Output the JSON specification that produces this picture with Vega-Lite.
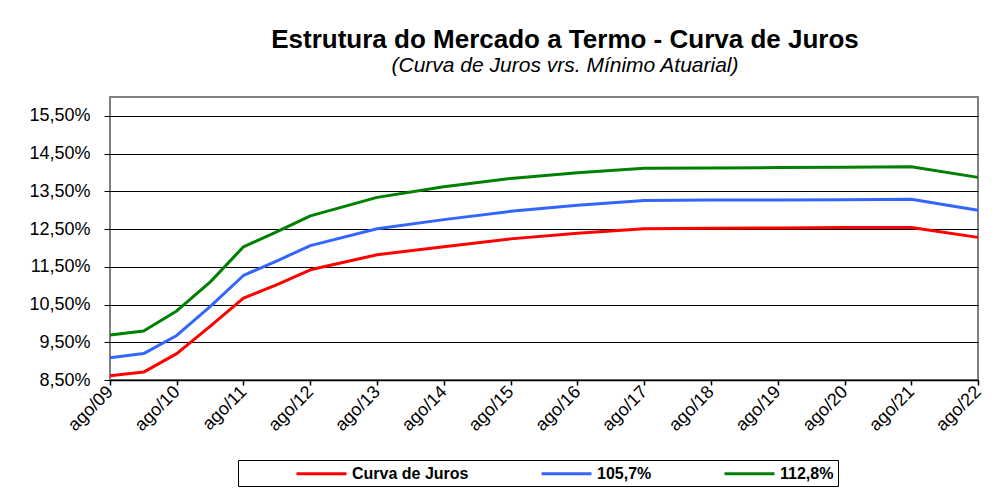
{
  "$schema": "https://vega.github.io/schema/vega-lite/v6.json",
  "width": 868,
  "height": 283,
  "autosize": {"type": "none"},
  "padding": {"left": 110, "top": 97, "right": 21, "bottom": 120},
  "background": "white",
  "title": {
    "text": "Estrutura do Mercado a Termo - Curva de Juros",
    "subtitle": "(Curva de Juros vrs. Mínimo Atuarial)",
    "anchor": "middle",
    "dx": 21,
    "offset": 21,
    "font": "Liberation Sans",
    "fontSize": 26,
    "fontWeight": "bold",
    "color": "black",
    "subtitleFont": "Liberation Sans",
    "subtitleFontSize": 21,
    "subtitleFontStyle": "italic",
    "subtitleColor": "black",
    "subtitlePadding": 2
  },
  "data": {
    "values": [
      {"data": "2009-08-01", "serie": "Curva de Juros", "taxa": 8.61},
      {"data": "2010-02-01", "serie": "Curva de Juros", "taxa": 8.71},
      {"data": "2010-08-01", "serie": "Curva de Juros", "taxa": 9.20},
      {"data": "2011-02-01", "serie": "Curva de Juros", "taxa": 9.93},
      {"data": "2011-08-01", "serie": "Curva de Juros", "taxa": 10.67},
      {"data": "2012-02-01", "serie": "Curva de Juros", "taxa": 11.03},
      {"data": "2012-08-01", "serie": "Curva de Juros", "taxa": 11.42},
      {"data": "2013-08-01", "serie": "Curva de Juros", "taxa": 11.82},
      {"data": "2014-08-01", "serie": "Curva de Juros", "taxa": 12.03},
      {"data": "2015-08-01", "serie": "Curva de Juros", "taxa": 12.24},
      {"data": "2016-08-01", "serie": "Curva de Juros", "taxa": 12.39},
      {"data": "2017-08-01", "serie": "Curva de Juros", "taxa": 12.51},
      {"data": "2018-08-01", "serie": "Curva de Juros", "taxa": 12.52},
      {"data": "2019-08-01", "serie": "Curva de Juros", "taxa": 12.53},
      {"data": "2020-08-01", "serie": "Curva de Juros", "taxa": 12.54},
      {"data": "2021-08-01", "serie": "Curva de Juros", "taxa": 12.54},
      {"data": "2022-08-01", "serie": "Curva de Juros", "taxa": 12.28},
      {"data": "2009-08-01", "serie": "105,7%", "taxa": 9.09},
      {"data": "2010-02-01", "serie": "105,7%", "taxa": 9.20},
      {"data": "2010-08-01", "serie": "105,7%", "taxa": 9.68},
      {"data": "2011-02-01", "serie": "105,7%", "taxa": 10.45},
      {"data": "2011-08-01", "serie": "105,7%", "taxa": 11.27},
      {"data": "2012-02-01", "serie": "105,7%", "taxa": 11.66},
      {"data": "2012-08-01", "serie": "105,7%", "taxa": 12.06},
      {"data": "2013-08-01", "serie": "105,7%", "taxa": 12.51},
      {"data": "2014-08-01", "serie": "105,7%", "taxa": 12.75},
      {"data": "2015-08-01", "serie": "105,7%", "taxa": 12.97},
      {"data": "2016-08-01", "serie": "105,7%", "taxa": 13.13},
      {"data": "2017-08-01", "serie": "105,7%", "taxa": 13.26},
      {"data": "2018-08-01", "serie": "105,7%", "taxa": 13.27},
      {"data": "2019-08-01", "serie": "105,7%", "taxa": 13.27},
      {"data": "2020-08-01", "serie": "105,7%", "taxa": 13.28},
      {"data": "2021-08-01", "serie": "105,7%", "taxa": 13.29},
      {"data": "2022-08-01", "serie": "105,7%", "taxa": 13.00},
      {"data": "2009-08-01", "serie": "112,8%", "taxa": 9.69},
      {"data": "2010-02-01", "serie": "112,8%", "taxa": 9.80},
      {"data": "2010-08-01", "serie": "112,8%", "taxa": 10.33},
      {"data": "2011-02-01", "serie": "112,8%", "taxa": 11.10},
      {"data": "2011-08-01", "serie": "112,8%", "taxa": 12.03},
      {"data": "2012-02-01", "serie": "112,8%", "taxa": 12.43},
      {"data": "2012-08-01", "serie": "112,8%", "taxa": 12.85},
      {"data": "2013-08-01", "serie": "112,8%", "taxa": 13.34},
      {"data": "2014-08-01", "serie": "112,8%", "taxa": 13.62},
      {"data": "2015-08-01", "serie": "112,8%", "taxa": 13.84},
      {"data": "2016-08-01", "serie": "112,8%", "taxa": 13.99},
      {"data": "2017-08-01", "serie": "112,8%", "taxa": 14.11},
      {"data": "2018-08-01", "serie": "112,8%", "taxa": 14.12},
      {"data": "2019-08-01", "serie": "112,8%", "taxa": 14.13},
      {"data": "2020-08-01", "serie": "112,8%", "taxa": 14.14},
      {"data": "2021-08-01", "serie": "112,8%", "taxa": 14.15},
      {"data": "2022-08-01", "serie": "112,8%", "taxa": 13.87}
    ]
  },
  "mark": {"type": "line", "strokeWidth": 3, "strokeJoin": "round"},
  "encoding": {
    "x": {
      "field": "data",
      "type": "temporal",
      "scale": {"type": "utc", "domain": [{"year": 2009, "month": 8, "date": 1, "utc": true}, {"year": 2022, "month": 8, "date": 1, "utc": true}]},
      "axis": {
        "title": null,
        "grid": false,
        "values": [
          {"year": 2009, "month": 8, "date": 1, "utc": true},
          {"year": 2010, "month": 8, "date": 1, "utc": true},
          {"year": 2011, "month": 8, "date": 1, "utc": true},
          {"year": 2012, "month": 8, "date": 1, "utc": true},
          {"year": 2013, "month": 8, "date": 1, "utc": true},
          {"year": 2014, "month": 8, "date": 1, "utc": true},
          {"year": 2015, "month": 8, "date": 1, "utc": true},
          {"year": 2016, "month": 8, "date": 1, "utc": true},
          {"year": 2017, "month": 8, "date": 1, "utc": true},
          {"year": 2018, "month": 8, "date": 1, "utc": true},
          {"year": 2019, "month": 8, "date": 1, "utc": true},
          {"year": 2020, "month": 8, "date": 1, "utc": true},
          {"year": 2021, "month": 8, "date": 1, "utc": true},
          {"year": 2022, "month": 8, "date": 1, "utc": true}
        ],
        "labelExpr": "'ago/' + utcFormat(datum.value, '%y')",
        "labelAngle": -45,
        "labelAlign": "right",
        "labelBaseline": "middle",
        "labelFont": "Liberation Sans",
        "labelFontSize": 18,
        "labelColor": "black",
        "labelPadding": 4,
        "labelOverlap": false,
        "labelFlush": false,
        "domainColor": "black",
        "domainWidth": 1.5,
        "tickColor": "black",
        "tickSize": 5,
        "tickWidth": 1.5
      }
    },
    "y": {
      "field": "taxa",
      "type": "quantitative",
      "scale": {"domain": [8.5, 16], "nice": false, "zero": false},
      "axis": {
        "title": null,
        "values": [8.5, 9.5, 10.5, 11.5, 12.5, 13.5, 14.5, 15.5],
        "labelExpr": "replace(format(datum.value, '.2f'), '.', ',') + '%'",
        "labelFont": "Liberation Sans",
        "labelFontSize": 18,
        "labelColor": "black",
        "labelPadding": 14,
        "domain": false,
        "grid": true,
        "gridColor": "black",
        "gridWidth": 1,
        "gridOpacity": 1,
        "tickColor": "black",
        "tickSize": 6,
        "tickWidth": 1
      }
    },
    "color": {
      "field": "serie",
      "type": "nominal",
      "scale": {
        "domain": ["Curva de Juros", "105,7%", "112,8%"],
        "range": ["#ff0000", "#3366ff", "#008000"]
      },
      "legend": {
        "title": "\u00a0",
        "titleOrient": "left",
        "titleFontSize": 11,
        "titlePadding": 87,
        "orient": "none",
        "direction": "horizontal",
        "legendX": 128,
        "legendY": 363,
        "strokeColor": "black",
        "padding": 4,
        "symbolType": "M-5.25,0H1",
        "symbolSize": 256,
        "symbolStrokeWidth": 3,
        "labelFont": "Liberation Sans",
        "labelFontSize": 16,
        "labelFontWeight": "bold",
        "labelColor": "black",
        "labelOffset": 4,
        "labelExpr": "datum.label == '112,8%' ? datum.label + '\u00a0\u00a0\u00a0\u00a0\u00a0\u00a0\u00a0\u00a0\u00a0\u00a0\u00a0\u00a0' : datum.label",
        "columnPadding": 66,
        "labelLimit": 300
      }
    }
  },
  "config": {
    "view": {"stroke": "#808080", "strokeWidth": 2}
  }
}
